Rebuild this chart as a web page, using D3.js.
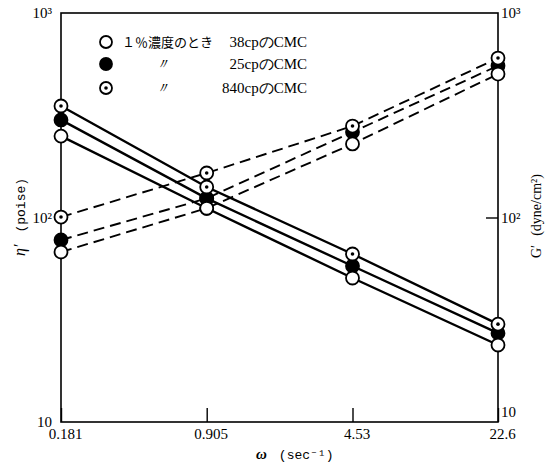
<!DOCTYPE html>
<html>
<head>
<meta charset="utf-8">
<script src="https://cdn.jsdelivr.net/npm/d3@7"></script>
<style>
  body { margin: 0; background: #fff; }
  text { fill: #000; }
</style>
</head>
<body>
<div id="chart"></div>
<script>
// angular frequency (sec^-1)
const omega = [0.181, 0.905, 4.53, 22.6];

// eta' (poise), solid lines
const eta38  = [250, 111, 50.6, 23.8];
const eta25  = [300, 124, 57.9, 27.2];
const eta840 = [351, 141, 66.3, 30.1];

// G' (dyne/cm2), dashed lines
const g38  = [67.8, 111, 229, 503];
const g25  = [77.6, 124, 262, 552];
const g840 = [100.5, 165, 280, 602];

const yTicks = [10, 100, 1000];
const legendLabels = ["38cpのCMC", "25cpのCMC", "840cpのCMC"];

const W = 555, H = 465;
const plotL = 61, plotR = 498, plotT = 13, plotB = 422;

const svg = d3.select("#chart").append("svg")
  .attr("width", W).attr("height", H);

const x = d3.scaleLog().domain([0.181, 22.6]).range([plotL, plotR]);
const y = d3.scaleLog().domain([10, 1000]).range([plotB, plotT]);

const serif = "'Liberation Serif', 'Times New Roman', 'DejaVu Serif', serif";
const mono = "'Liberation Mono', 'DejaVu Sans Mono', monospace";
const supFmt = d => d === 10 ? "10" : d === 100 ? "10²" : "10³";

// frame
svg.append("rect")
  .attr("x", plotL).attr("y", plotT)
  .attr("width", plotR - plotL).attr("height", plotB - plotT)
  .attr("fill", "none").attr("stroke", "#000").attr("stroke-width", 1.6);

// bottom axis with inward ticks
const xAxis = svg.append("g")
  .attr("transform", `translate(0,${plotB})`)
  .call(d3.axisBottom(x).tickValues(omega)
    .tickSizeInner(-14).tickSizeOuter(0).tickPadding(6)
    .tickFormat(d => d.toString()));
xAxis.select(".domain").remove();
xAxis.selectAll(".tick line").attr("stroke", "#000").attr("stroke-width", 1.4);
xAxis.selectAll("text").style("font-family", serif).style("font-size", "15px")
  .attr("dx", 4);

// left axis
const yAxisL = svg.append("g")
  .attr("transform", `translate(${plotL},0)`)
  .call(d3.axisLeft(y).tickValues(yTicks).tickSize(0).tickPadding(9).tickFormat(supFmt));
yAxisL.select(".domain").remove();
yAxisL.selectAll("text").style("font-family", serif).style("font-size", "15px");

// right axis
const yAxisR = svg.append("g")
  .attr("transform", `translate(${plotR},0)`)
  .call(d3.axisRight(y).tickValues(yTicks).tickSize(0).tickPadding(3).tickFormat(supFmt));
yAxisR.select(".domain").remove();
yAxisR.selectAll("text").style("font-family", serif).style("font-size", "15px")
  .attr("dy", d => d === 10 ? "-0.35em" : "0.32em");
yAxisR.selectAll(".tick").filter(d => d === 100).append("line")
  .attr("x1", 0).attr("x2", -12).attr("stroke", "#000").attr("stroke-width", 1.4);

// axis titles
const tL = svg.append("text")
  .attr("transform", `translate(25,256) rotate(-90)`)
  .style("font-family", serif);
tL.append("tspan").style("font-size", "16px").style("font-style", "italic").text("η′");
tL.append("tspan").attr("dx", 12).style("font-family", mono).style("font-size", "13px").text("(poise)");

const tR = svg.append("text")
  .attr("transform", `translate(541,258) rotate(-90)`)
  .style("font-family", serif);
tR.append("tspan").style("font-size", "14px").text("G′");
tR.append("tspan").attr("dx", 9).style("font-size", "14px").text("(dyne/cm²)");

const tX = svg.append("text")
  .attr("x", 256).attr("y", 459)
  .style("font-family", serif);
tX.append("tspan").style("font-size", "15px").style("font-style", "italic").style("font-weight", "bold").text("ω");
tX.append("tspan").attr("dx", 12).style("font-family", mono).style("font-size", "13px").text("(sec⁻¹)");

// series
const series = [
  { vals: eta25,  kind: "filled", dash: null },
  { vals: eta38,  kind: "open",   dash: null },
  { vals: eta840, kind: "dotted", dash: null },
  { vals: g25,    kind: "filled", dash: "11,6" },
  { vals: g38,    kind: "open",   dash: "11,6" },
  { vals: g840,   kind: "dotted", dash: "11,6" }
];

const line = d3.line().x((d, i) => x(omega[i])).y(d => y(d));

svg.append("g").selectAll("path")
  .data(series)
  .join("path")
    .attr("d", d => line(d.vals))
    .attr("fill", "none")
    .attr("stroke", "#000")
    .attr("stroke-width", d => d.dash ? 1.9 : 2.4)
    .attr("stroke-dasharray", d => d.dash);

function drawMarker(g, cx, cy, kind, r = 6.5) {
  g.append("circle")
    .attr("cx", cx).attr("cy", cy).attr("r", r)
    .attr("fill", kind === "filled" ? "#000" : "#fff")
    .attr("stroke", "#000").attr("stroke-width", 1.8);
  if (kind === "dotted") {
    g.append("circle").attr("cx", cx).attr("cy", cy).attr("r", 1.8).attr("fill", "#000");
  }
}

const markers = svg.append("g");
["filled", "open", "dotted"].forEach(kind => {
  series.filter(s => s.kind === kind).forEach(s => {
    s.vals.forEach((v, i) => drawMarker(markers, x(omega[i]), y(v), kind));
  });
});

// legend
const legend = svg.append("g").style("font-family", serif).style("font-size", "15px");
const kinds = ["open", "filled", "dotted"];
const legendY = [42, 64, 88];
kinds.forEach((k, i) => {
  drawMarker(legend, 106, legendY[i], k, 6);
  legend.append("text")
    .attr("x", 307).attr("y", legendY[i]).attr("dy", "0.35em")
    .attr("text-anchor", "end")
    .text(legendLabels[i]);
});
legend.append("text")
  .attr("x", 122).attr("y", legendY[0]).attr("dy", "0.35em")
  .style("font-family", "'Noto Sans CJK JP', sans-serif").style("font-size", "13px")
  .text("１％濃度のとき");
[1, 2].forEach(i => {
  legend.append("text")
    .attr("x", 162).attr("y", legendY[i]).attr("dy", "0.35em")
    .attr("text-anchor", "middle")
    .style("font-style", "italic")
    .text("〃");
});
</script>
</body>
</html>
